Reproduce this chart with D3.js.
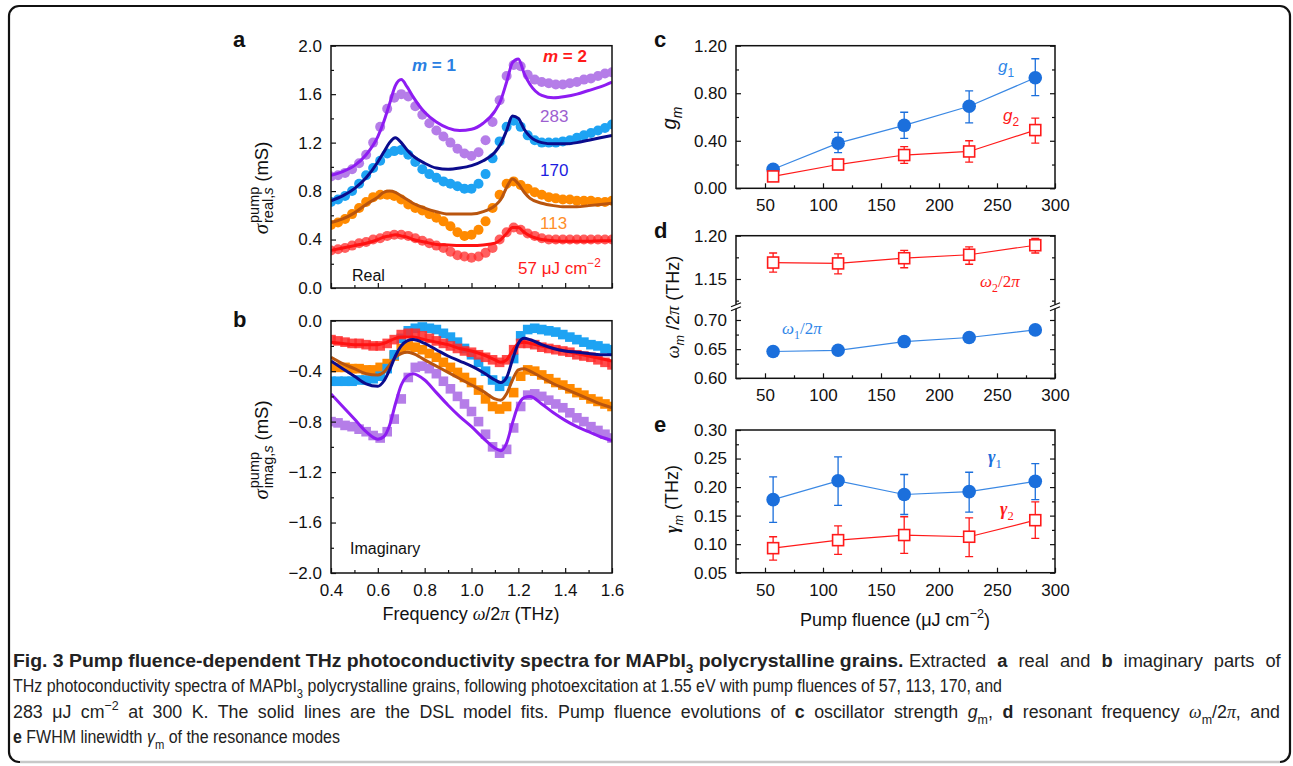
<!DOCTYPE html>
<html>
<head>
<meta charset="utf-8">
<script src="https://cdn.jsdelivr.net/npm/d3@7"></script>
<style>
  body { margin: 0; background: #fff; }
  svg { display: block; }
</style>
</head>
<body>
<svg id="fig"></svg>
<script>
// ---- data ----
var freqDots = [0.40,0.43,0.46,0.49,0.52,0.55,0.58,0.61,0.64,0.67,0.70,0.73,0.76,0.79,0.82,0.85,0.88,0.91,0.94,0.97,1.00,
  1.03,1.06,1.09,1.12,1.15,1.18,1.21,1.24,1.27,1.30,1.33,1.36,1.39,1.42,1.45,1.48,1.51,1.54,1.57,1.60];

var realDots283 = [0.92,0.93,0.95,0.98,1.03,1.10,1.20,1.33,1.48,1.57,1.60,1.58,1.50,1.43,1.36,1.30,1.25,1.20,1.15,1.11,1.09,
  1.12,1.22,1.37,1.55,1.75,1.84,1.83,1.76,1.72,1.70,1.69,1.68,1.68,1.69,1.70,1.72,1.73,1.75,1.77,1.78];
var realDots170 = [0.71,0.73,0.76,0.80,0.86,0.93,0.99,1.05,1.11,1.13,1.14,1.10,1.04,0.98,0.94,0.91,0.88,0.86,0.84,0.82,0.82,
  0.86,0.94,1.07,1.21,1.33,1.38,1.33,1.26,1.22,1.20,1.20,1.20,1.21,1.22,1.24,1.26,1.28,1.30,1.32,1.35];
var realDots113 = [0.52,0.54,0.57,0.61,0.66,0.71,0.75,0.77,0.77,0.76,0.73,0.69,0.66,0.64,0.61,0.58,0.55,0.51,0.46,0.43,0.44,
  0.48,0.55,0.66,0.77,0.86,0.88,0.85,0.82,0.79,0.77,0.75,0.74,0.73,0.73,0.72,0.72,0.72,0.71,0.71,0.72];
var realDots57 = [0.31,0.32,0.33,0.35,0.37,0.38,0.40,0.41,0.43,0.44,0.44,0.43,0.41,0.39,0.37,0.35,0.33,0.30,0.27,0.26,0.25,
  0.26,0.29,0.33,0.40,0.46,0.50,0.48,0.45,0.43,0.41,0.40,0.40,0.40,0.40,0.40,0.40,0.40,0.40,0.40,0.40];

var imagDots283 = [-0.80,-0.81,-0.83,-0.84,-0.86,-0.88,-0.91,-0.93,-0.88,-0.78,-0.62,-0.45,-0.37,-0.36,-0.38,-0.42,-0.48,-0.54,-0.60,-0.66,-0.72,
  -0.80,-0.90,-1.00,-1.05,-1.02,-0.85,-0.68,-0.59,-0.58,-0.60,-0.63,-0.66,-0.69,-0.73,-0.77,-0.80,-0.84,-0.87,-0.90,-0.93];
var imagDots170 = [-0.48,-0.48,-0.48,-0.48,-0.47,-0.47,-0.46,-0.44,-0.38,-0.27,-0.14,-0.08,-0.06,-0.05,-0.06,-0.07,-0.10,-0.13,-0.17,-0.22,-0.27,
  -0.33,-0.40,-0.47,-0.52,-0.48,-0.30,-0.12,-0.07,-0.06,-0.07,-0.08,-0.09,-0.11,-0.13,-0.15,-0.17,-0.19,-0.20,-0.22,-0.23];
var imagDots113 = [-0.37,-0.37,-0.37,-0.38,-0.38,-0.39,-0.39,-0.37,-0.34,-0.28,-0.22,-0.20,-0.21,-0.23,-0.26,-0.29,-0.33,-0.37,-0.41,-0.45,-0.49,
  -0.55,-0.62,-0.68,-0.70,-0.68,-0.57,-0.44,-0.39,-0.40,-0.43,-0.46,-0.49,-0.51,-0.54,-0.57,-0.59,-0.62,-0.64,-0.66,-0.68];
var imagDots57 = [-0.15,-0.16,-0.17,-0.18,-0.18,-0.19,-0.20,-0.20,-0.18,-0.15,-0.11,-0.10,-0.10,-0.12,-0.14,-0.16,-0.18,-0.20,-0.22,-0.24,-0.25,
  -0.27,-0.29,-0.31,-0.33,-0.31,-0.23,-0.18,-0.18,-0.19,-0.21,-0.22,-0.23,-0.24,-0.25,-0.27,-0.28,-0.29,-0.31,-0.33,-0.35];

var freqFit = [0.40,0.45,0.50,0.55,0.60,0.625,0.65,0.675,0.70,0.725,0.75,0.80,0.85,0.90,0.95,1.00,1.05,1.10,1.125,1.15,
  1.175,1.20,1.225,1.25,1.30,1.35,1.40,1.45,1.50,1.55,1.60];

var realFit283 = [0.93,0.96,1.01,1.10,1.25,1.37,1.52,1.67,1.72,1.66,1.58,1.45,1.37,1.32,1.30,1.31,1.36,1.46,1.55,1.70,
  1.86,1.89,1.77,1.68,1.59,1.57,1.58,1.60,1.63,1.66,1.70];
var realFit170 = [0.72,0.76,0.82,0.91,1.04,1.12,1.20,1.24,1.20,1.14,1.09,1.03,0.99,0.98,0.99,1.01,1.05,1.12,1.19,1.30,
  1.42,1.40,1.31,1.25,1.20,1.19,1.19,1.20,1.22,1.24,1.26];
var realFit113 = [0.54,0.57,0.62,0.69,0.75,0.79,0.80,0.79,0.76,0.73,0.70,0.66,0.63,0.61,0.61,0.61,0.63,0.68,0.73,0.83,
  0.90,0.86,0.79,0.74,0.70,0.68,0.67,0.67,0.68,0.69,0.70];
var realFit57 = [0.31,0.33,0.35,0.37,0.40,0.42,0.43,0.44,0.43,0.42,0.40,0.38,0.36,0.355,0.35,0.35,0.355,0.37,0.40,0.45,
  0.50,0.50,0.46,0.43,0.40,0.39,0.385,0.385,0.385,0.39,0.39];

var imagFit283 = [-0.58,-0.68,-0.78,-0.88,-0.94,-0.92,-0.83,-0.66,-0.51,-0.44,-0.42,-0.47,-0.57,-0.67,-0.76,-0.84,-0.93,-1.01,-1.03,-0.97,
  -0.81,-0.67,-0.61,-0.60,-0.66,-0.73,-0.79,-0.84,-0.88,-0.92,-0.95];
var imagFit170 = [-0.32,-0.38,-0.44,-0.50,-0.52,-0.48,-0.39,-0.28,-0.20,-0.16,-0.15,-0.18,-0.23,-0.28,-0.32,-0.36,-0.41,-0.47,-0.49,-0.45,
  -0.31,-0.18,-0.14,-0.15,-0.19,-0.22,-0.24,-0.25,-0.26,-0.27,-0.27];
var imagFit113 = [-0.29,-0.34,-0.38,-0.42,-0.43,-0.41,-0.35,-0.29,-0.26,-0.25,-0.26,-0.31,-0.36,-0.41,-0.46,-0.51,-0.56,-0.62,-0.63,-0.58,
  -0.47,-0.39,-0.38,-0.40,-0.45,-0.50,-0.54,-0.58,-0.62,-0.66,-0.69];
var imagFit57 = [-0.17,-0.18,-0.19,-0.19,-0.19,-0.18,-0.16,-0.14,-0.13,-0.13,-0.13,-0.15,-0.17,-0.19,-0.22,-0.24,-0.27,-0.31,-0.33,-0.31,
  -0.24,-0.18,-0.17,-0.18,-0.20,-0.22,-0.24,-0.26,-0.28,-0.30,-0.32];

var fluence = [57, 113, 170, 226, 283];
var g1 = [0.16, 0.38, 0.53, 0.69, 0.93], g1Lo = [0.13, 0.30, 0.42, 0.55, 0.78], g1Hi = [0.19, 0.47, 0.64, 0.82, 1.09];
var g2 = [0.10, 0.20, 0.28, 0.31, 0.49], g2Lo = [0.07, 0.18, 0.21, 0.22, 0.38], g2Hi = [0.14, 0.22, 0.35, 0.40, 0.59];
var w2 = [1.169, 1.168, 1.174, 1.178, 1.189], w2Lo = [1.158, 1.156, 1.163, 1.167, 1.180], w2Hi = [1.180, 1.179, 1.183, 1.187, 1.197];
var w1 = [0.646, 0.648, 0.663, 0.670, 0.683];
var gam1 = [0.178, 0.211, 0.187, 0.192, 0.210], gam1Lo = [0.138, 0.168, 0.152, 0.156, 0.178], gam1Hi = [0.218, 0.253, 0.222, 0.226, 0.241];
var gam2 = [0.093, 0.107, 0.116, 0.113, 0.142], gam2Lo = [0.072, 0.082, 0.084, 0.078, 0.110], gam2Hi = [0.113, 0.132, 0.148, 0.146, 0.174];

var freqTicks = [0.4, 0.6, 0.8, 1.0, 1.2, 1.4, 1.6];
var realTicks = [0, 0.4, 0.8, 1.2, 1.6, 2.0];
var imagTicks = [-2.0, -1.6, -1.2, -0.8, -0.4, 0];
var fluTicks = [50, 100, 150, 200, 250, 300];
var gTicks = [0, 0.4, 0.8, 1.2];
var wUpTicks = [1.15, 1.20], wLoTicks = [0.60, 0.65, 0.70];
var gamTicks = [0.05, 0.10, 0.15, 0.20, 0.25, 0.30];

// ---- setup ----
var SANS = "'Liberation Sans', Arial, Helvetica, sans-serif";
var SERIF = "'Liberation Serif', 'Times New Roman', serif";
var CAP = "'Liberation Sans', Arial, sans-serif";

var svg = d3.select("#fig").attr("width", 1293).attr("height", 766);
svg.append("rect").attr("width", 1293).attr("height", 766).attr("fill", "#fff");
svg.append("rect").attr("x", 9).attr("y", 6).attr("width", 1281).attr("height", 756)
  .attr("rx", 10).attr("fill", "none").attr("stroke", "#111").attr("stroke-width", 2.2);
svg.append("line").attr("x1", 20).attr("x2", 1280).attr("y1", 762).attr("y2", 762)
  .attr("stroke", "#c8c8c8").attr("stroke-width", 2.4);

var xA = d3.scaleLinear().domain([0.4, 1.6]).range([331, 612]);
var yA = d3.scaleLinear().domain([0, 2]).range([288, 45.7]);
var yB = d3.scaleLinear().domain([-2, 0]).range([573, 320.7]);
var xR = d3.scaleLinear().domain([25, 300]).range([736, 1055]);
var yC = d3.scaleLinear().domain([0, 1.2]).range([188.3, 45.7]);
var yDUp = d3.scaleLinear().domain([1.118, 1.2]).range([306.7, 235.7]);
var yDLo = d3.scaleLinear().domain([0.6, 0.7228]).range([378.3, 306.7]);
var yE = d3.scaleLinear().domain([0.05, 0.3]).range([572.7, 430]);

function styleAxis(g, size) {
  g.select(".domain").remove();
  g.selectAll("line").attr("stroke", "#111").attr("stroke-width", 1.2);
  g.selectAll("text").attr("font-family", SANS).attr("font-size", size || 17).attr("fill", "#111");
}

function axis(fn, scale, tr, vals, len, fmt, pad) {
  var ax = fn(scale).tickValues(vals).tickSize(len).tickSizeOuter(0).tickPadding(pad || 9)
    .tickFormat(fmt || "");
  var g = svg.append("g").attr("transform", tr).call(ax);
  styleAxis(g);
  return g;
}

function frame(x0, x1, y0, y1) {
  svg.append("rect").attr("x", x0).attr("y", y0).attr("width", x1 - x0).attr("height", y1 - y0)
    .attr("fill", "none").attr("stroke", "#111").attr("stroke-width", 1.5);
}

// text with sub/superscripts
function rich(parent, x, y, parts, size, opt) {
  opt = opt || {};
  var t = parent.append("text").attr("x", x).attr("y", y).attr("font-size", size)
    .attr("font-family", opt.ff || SANS).attr("fill", opt.fill || "#111")
    .attr("text-anchor", opt.anchor || "start");
  var cur = 0;
  parts.forEach(function (p) {
    var s = t.append("tspan").text(p.t);
    var shift = p.sub ? size * 0.3 : p.sup ? -size * 0.42 : 0;
    if (shift !== cur) { s.attr("dy", shift - cur); cur = shift; }
    if (p.sub || p.sup) s.attr("font-size", size * (p.small || 0.7));
    if (p.b) s.attr("font-weight", "bold");
    if (p.i) s.attr("font-style", "italic");
    if (p.serif) s.attr("font-family", SERIF);
    if (p.fill) s.attr("fill", p.fill);
  });
  return t;
}

function panelLetter(x, y, s) {
  svg.append("text").attr("x", x).attr("y", y).attr("font-family", SANS).attr("font-weight", "bold")
    .attr("font-size", 22).attr("fill", "#111").text(s);
}

// ---- panel a & b (spectra) ----
var cols = {
  283: { dot: "#b57de8", fit: "#8e1cf2" },
  170: { dot: "#1ea3f3", fit: "#0b0b8c" },
  113: { dot: "#ff8a00", fit: "#b9550e" },
  57: { dot: "#ff2a2a", fit: "#ff1212" }
};

svg.append("defs").call(function (d) {
  d.append("clipPath").attr("id", "clipA").append("rect").attr("x", 331).attr("y", 45.7).attr("width", 281).attr("height", 242.3);
  d.append("clipPath").attr("id", "clipB").append("rect").attr("x", 331).attr("y", 320.7).attr("width", 281).attr("height", 252.3);
});

var realSets = [[283, realDots283, realFit283], [170, realDots170, realFit170], [113, realDots113, realFit113], [57, realDots57, realFit57]];
var imagSets = [[283, imagDots283, imagFit283], [113, imagDots113, imagFit113], [170, imagDots170, imagFit170], [57, imagDots57, imagFit57]];

var gA = svg.append("g").attr("clip-path", "url(#clipA)");
realSets.forEach(function (s) {
  gA.append("g").selectAll("circle").data(s[1]).enter().append("circle")
    .attr("cx", function (d, i) { return xA(freqDots[i]); })
    .attr("cy", function (d) { return yA(d); })
    .attr("r", 5)
    .attr("fill", cols[s[0]].dot)
    .attr("fill-opacity", s[0] === 57 ? 0.75 : 1);
});
realSets.forEach(function (s) {
  var line = d3.line().x(function (d, i) { return xA(freqFit[i]); }).y(function (d) { return yA(d); }).curve(d3.curveMonotoneX);
  gA.append("path").datum(s[2]).attr("d", line).attr("fill", "none")
    .attr("stroke", cols[s[0]].fit).attr("stroke-width", 3);
});

var gB = svg.append("g").attr("clip-path", "url(#clipB)");
imagSets.forEach(function (s) {
  gB.append("g").selectAll("rect").data(s[1]).enter().append("rect")
    .attr("x", function (d, i) { return xA(freqDots[i]) - 4.8; })
    .attr("y", function (d) { return yB(d) - 4.8; })
    .attr("width", 9.6).attr("height", 9.6)
    .attr("fill", cols[s[0]].dot)
    .attr("fill-opacity", s[0] === 57 ? 0.85 : 1);
});
[[57, imagFit57], [113, imagFit113], [170, imagFit170], [283, imagFit283]].forEach(function (s) {
  var line = d3.line().x(function (d, i) { return xA(freqFit[i]); }).y(function (d) { return yB(d); }).curve(d3.curveMonotoneX);
  gB.append("path").datum(s[1]).attr("d", line).attr("fill", "none")
    .attr("stroke", cols[s[0]].fit).attr("stroke-width", 3);
});

// axes a
axis(d3.axisLeft, yA, "translate(331,0)", realTicks, -5, d3.format(".1f"));
axis(d3.axisLeft, yA, "translate(331,0)", [0.2, 0.6, 1.0, 1.4, 1.8], -3);
axis(d3.axisBottom, xA, "translate(0,288)", freqTicks, -5);
axis(d3.axisBottom, xA, "translate(0,288)", [0.5, 0.7, 0.9, 1.1, 1.3, 1.5], -3);
frame(331, 612, 45.7, 288);
// axes b
axis(d3.axisLeft, yB, "translate(331,0)", imagTicks, -5, d3.format(".1f"));
axis(d3.axisLeft, yB, "translate(331,0)", [-1.8, -1.4, -1.0, -0.6, -0.2], -3);
axis(d3.axisBottom, xA, "translate(0,573)", freqTicks, -5, d3.format(".1f"), 11);
axis(d3.axisBottom, xA, "translate(0,573)", [0.5, 0.7, 0.9, 1.1, 1.3, 1.5], -3);
frame(331, 612, 320.7, 573);

function sigmaLabel(cx, cy, subTxt) {
  var g = svg.append("g");
  var t1 = g.append("text").attr("font-family", SERIF).attr("font-style", "italic").attr("font-size", 21).attr("fill", "#111").text("σ");
  var w1 = t1.node().getComputedTextLength();
  var up = g.append("text").attr("x", w1 + 1).attr("y", -9.5).attr("font-family", SANS).attr("font-size", 14.5).attr("fill", "#111").text("pump");
  var dn = g.append("text").attr("x", w1 + 1).attr("y", 5).attr("font-family", SANS).attr("font-size", 14.5).attr("fill", "#111");
  dn.append("tspan").text(subTxt + ",");
  dn.append("tspan").attr("font-style", "italic").text("s");
  var w2 = Math.max(up.node().getComputedTextLength(), dn.node().getComputedTextLength());
  var t3 = g.append("text").attr("x", w1 + w2 + 6).attr("font-family", SANS).attr("font-size", 18.5).attr("fill", "#111").text("(mS)");
  var total = w1 + w2 + 6 + t3.node().getComputedTextLength();
  g.attr("transform", "translate(" + cx + "," + (cy + total / 2) + ") rotate(-90)");
}
sigmaLabel(268, 188, "real");
sigmaLabel(268, 450, "imag");

rich(svg, 471, 620, [{ t: "Frequency " }, { t: "ω", i: true, serif: true }, { t: "/2" }, { t: "π", i: true, serif: true }, { t: " (THz)" }], 18, { anchor: "middle" });

// annotations a/b
rich(svg, 412, 71, [{ t: "m", i: true }, { t: " = 1" }], 17, { fill: "#2a80e2" }).attr("font-weight", "bold");
rich(svg, 543, 62, [{ t: "m", i: true }, { t: " = 2" }], 17, { fill: "#ff1a1a" }).attr("font-weight", "bold");
rich(svg, 540, 122, [{ t: "283" }], 17, { fill: "#9d5fd0" });
rich(svg, 540, 176, [{ t: "170" }], 17, { fill: "#1c1ce0" });
rich(svg, 540, 229, [{ t: "113" }], 17, { fill: "#ff8f2a" });
rich(svg, 518, 274, [{ t: "57 μJ cm" }, { t: "−2", sup: true }], 17, { fill: "#ff1a1a" });
rich(svg, 352, 281, [{ t: "Real" }], 16);
rich(svg, 350, 554, [{ t: "Imaginary" }], 16);

panelLetter(233, 47, "a");
panelLetter(233, 327, "b");

// ---- panels c, d, e ----
var BLUE = "#1b6fdc", BLUE_L = "#3a88e4", RED = "#ff1a1a";

function errBars(g, xs, lo, hi, y, col) {
  g.selectAll(null).data(xs).enter().append("path")
    .attr("d", function (d, i) {
      var x = xR(d), a = y(lo[i]), b = y(hi[i]);
      return "M" + x + "," + a + "V" + b + "M" + (x - 4) + "," + a + "H" + (x + 4) + "M" + (x - 4) + "," + b + "H" + (x + 4);
    })
    .attr("stroke", col).attr("stroke-width", 1.3).attr("fill", "none");
}
function circles(g, vals, y) {
  var line = d3.line().x(function (d, i) { return xR(fluence[i]); }).y(function (d) { return y(d); });
  g.append("path").datum(vals).attr("d", line).attr("fill", "none").attr("stroke", BLUE_L).attr("stroke-width", 1.2);
  g.selectAll(null).data(vals).enter().append("circle")
    .attr("cx", function (d, i) { return xR(fluence[i]); }).attr("cy", function (d) { return y(d); })
    .attr("r", 6.8).attr("fill", BLUE);
}
function squares(g, vals, y) {
  var line = d3.line().x(function (d, i) { return xR(fluence[i]); }).y(function (d) { return y(d); });
  g.append("path").datum(vals).attr("d", line).attr("fill", "none").attr("stroke", RED).attr("stroke-width", 1.2);
  g.selectAll(null).data(vals).enter().append("rect")
    .attr("x", function (d, i) { return xR(fluence[i]) - 5.5; }).attr("y", function (d) { return y(d) - 5.5; })
    .attr("width", 11).attr("height", 11).attr("fill", "#fff").attr("stroke", RED).attr("stroke-width", 1.6);
}
function fluAxes(y0, y1, labels) {
  axis(d3.axisBottom, xR, "translate(0," + y1 + ")", fluTicks, -5, labels ? d3.format("d") : "", 11);
  axis(d3.axisBottom, xR, "translate(0," + y1 + ")", [75, 125, 175, 225, 275], -3);
}

// c
var gc = svg.append("g");
errBars(gc, fluence, g1Lo, g1Hi, yC, BLUE);
circles(gc, g1, yC);
errBars(gc, fluence, g2Lo, g2Hi, yC, RED);
squares(gc, g2, yC);
axis(d3.axisLeft, yC, "translate(736,0)", gTicks, -5, d3.format(".2f"));
axis(d3.axisLeft, yC, "translate(736,0)", [0.2, 0.6, 1.0], -3);
axis(d3.axisRight, yC, "translate(1055,0)", gTicks, -5);
axis(d3.axisRight, yC, "translate(1055,0)", [0.2, 0.6, 1.0], -3);
fluAxes(45.7, 188.3, true);
frame(736, 1055, 45.7, 188.3);

// d
var gd = svg.append("g");
errBars(gd, fluence, w2Lo, w2Hi, yDUp, RED);
squares(gd, w2, yDUp);
circles(gd, w1, yDLo);
axis(d3.axisLeft, yDUp, "translate(736,0)", wUpTicks, -5, d3.format(".2f"));
axis(d3.axisLeft, yDUp, "translate(736,0)", [1.125, 1.175], -3);
axis(d3.axisLeft, yDLo, "translate(736,0)", wLoTicks, -5, d3.format(".2f"));
axis(d3.axisLeft, yDLo, "translate(736,0)", [0.625, 0.675], -3);
axis(d3.axisRight, yDUp, "translate(1055,0)", wUpTicks, -5);
axis(d3.axisRight, yDUp, "translate(1055,0)", [1.125, 1.175], -3);
axis(d3.axisRight, yDLo, "translate(1055,0)", wLoTicks, -5);
axis(d3.axisRight, yDLo, "translate(1055,0)", [0.625, 0.675], -3);
fluAxes(235.7, 378.3, true);
frame(736, 1055, 235.7, 378.3);
[736, 1055].forEach(function (x) {
  var yb = yDLo(0.7228);
  svg.append("rect").attr("x", x - 3).attr("y", yb - 2).attr("width", 6).attr("height", 4).attr("fill", "#fff");
  [-2, 2].forEach(function (o) {
    svg.append("line").attr("x1", x - 5).attr("x2", x + 5).attr("y1", yb + o + 2).attr("y2", yb + o - 2)
      .attr("stroke", "#111").attr("stroke-width", 1.2);
  });
});

// e
var ge = svg.append("g");
errBars(ge, fluence, gam1Lo, gam1Hi, yE, BLUE);
circles(ge, gam1, yE);
errBars(ge, fluence, gam2Lo, gam2Hi, yE, RED);
squares(ge, gam2, yE);
axis(d3.axisLeft, yE, "translate(736,0)", gamTicks, -5, d3.format(".2f"));
axis(d3.axisLeft, yE, "translate(736,0)", [0.075, 0.125, 0.175, 0.225, 0.275], -3);
axis(d3.axisRight, yE, "translate(1055,0)", gamTicks, -5);
axis(d3.axisRight, yE, "translate(1055,0)", [0.075, 0.125, 0.175, 0.225, 0.275], -3);
fluAxes(430, 572.7, true);
frame(736, 1055, 430, 572.7);

rich(svg, 895, 626, [{ t: "Pump fluence (μJ cm" }, { t: "−2", sup: true }, { t: ")" }], 18, { anchor: "middle" });

// rotated y titles
function rotTitle(cx, cy, parts, size) {
  var g = svg.append("g").attr("transform", "translate(" + cx + "," + cy + ") rotate(-90)");
  rich(g, 0, 0, parts, size, { anchor: "middle" });
}
rotTitle(676, 118, [{ t: "g", i: true }, { t: "m", i: true, sub: true }], 20);
rotTitle(679, 307, [{ t: "ω", i: true, serif: true }, { t: "m", i: true, sub: true }, { t: " /2" }, { t: "π", i: true, serif: true }, { t: " (THz)" }], 18);
rotTitle(678, 499, [{ t: "γ", i: true, b: true, serif: true }, { t: "m", i: true, sub: true }, { t: " (THz)" }], 18);

// annotations c/d/e
rich(svg, 998, 72, [{ t: "g", i: true }, { t: "1", sub: true }], 17, { fill: "#2f86e8" });
rich(svg, 1003, 121, [{ t: "g", i: true }, { t: "2", sub: true }], 17, { fill: RED });
rich(svg, 980, 287, [{ t: "ω", i: true, serif: true }, { t: "2", sub: true }, { t: "/2" }, { t: "π", i: true, serif: true }], 17, { fill: RED, ff: SERIF });
rich(svg, 782, 334, [{ t: "ω", i: true, serif: true }, { t: "1", sub: true }, { t: "/2" }, { t: "π", i: true, serif: true }], 17, { fill: "#2f86e8", ff: SERIF });
rich(svg, 988, 463, [{ t: "γ", i: true, b: true }, { t: "1", sub: true }], 18, { fill: BLUE, ff: SERIF });
rich(svg, 1000, 515, [{ t: "γ", i: true, b: true }, { t: "2", sub: true }], 18, { fill: RED, ff: SERIF });

panelLetter(654, 47, "c");
panelLetter(654, 238, "d");
panelLetter(654, 432, "e");

// ---- caption: condensed text; justified lines share the extra width between glyphs and word gaps ----
var capSize = 18.5;
function capPiece(x, y, parts, sx, width) {
  var g = svg.append("g");
  var t = rich(g, 0, 0, parts, capSize, { ff: CAP, fill: "#222" });
  var w = t.node().getComputedTextLength();
  if (!sx) sx = width / w;
  else if (width) {
    var extra = width - w * sx;
    sx = (w * sx + extra / 2) / w;
    var gaps = (t.text().match(/ /g) || []).length;
    if (gaps) t.attr("word-spacing", (width / sx - w) / gaps);
  }
  g.attr("transform", "translate(" + x + "," + y + ") scale(" + sx + ",1)");
  return sx;
}
var capScale = capPiece(13, 692, [
  { t: "THz photoconductivity spectra of MAPbI" }, { t: "3", sub: true },
  { t: " polycrystalline grains, following photoexcitation at 1.55 eV with pump fluences of 57, 113, 170, and" }
], null, 990);
capPiece(13, 667, [
  { t: "Fig. 3 Pump fluence-dependent THz photoconductivity spectra for MAPbI", b: true },
  { t: "3", b: true, sub: true },
  { t: " polycrystalline grains.", b: true }
], null, 891);
capPiece(909, 667, [
  { t: "Extracted " }, { t: "a", b: true }, { t: " real and " }, { t: "b", b: true }, { t: " imaginary parts of" }
], capScale, 372);
capPiece(13, 718, [
  { t: "283 μJ cm" }, { t: "−2", sup: true },
  { t: " at 300 K. The solid lines are the DSL model fits. Pump fluence evolutions of " }, { t: "c", b: true },
  { t: " oscillator strength " }, { t: "g", i: true }, { t: "m", sub: true }, { t: ", " }, { t: "d", b: true },
  { t: " resonant frequency " }, { t: "ω", i: true, serif: true }, { t: "m", sub: true }, { t: "/2" }, { t: "π", i: true, serif: true },
  { t: ", and" }
], capScale, 1268);
capPiece(13, 743, [
  { t: "e", b: true }, { t: " FWHM linewidth " }, { t: "γ", i: true }, { t: "m", sub: true }, { t: " of the resonance modes" }
], capScale, null);
</script>
</body>
</html>
